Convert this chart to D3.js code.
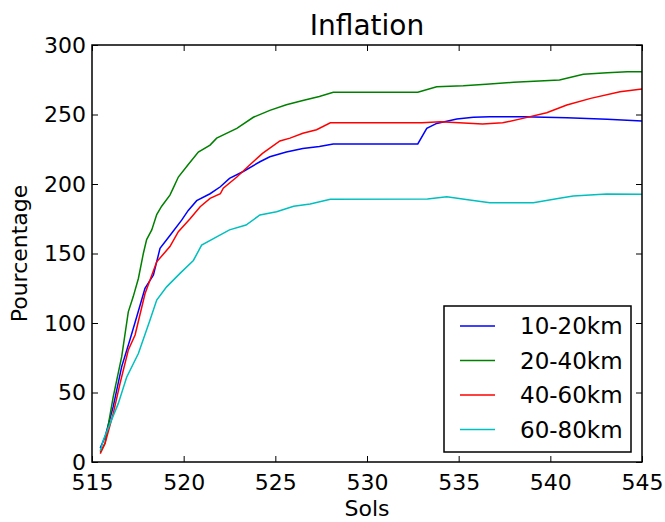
<!DOCTYPE html>
<html>
<head>
<meta charset="utf-8">
<script src="https://cdn.jsdelivr.net/npm/d3@7"></script>
<style>
  body { margin: 0; background: #fff; }
  text { font-family: "DejaVu Sans", sans-serif; }
</style>
</head>
<body>
<svg class="chart"></svg>
<script>
// data: [sol, percentage]
var s10_20 = [[515.45,10],[515.71,18],[516.16,40],[516.62,68.6],[517.07,88],[517.44,104.5],[517.89,125],[518.35,134.5],[518.71,153.7],[519.25,163],[519.89,174],[520.25,181],[520.71,188],[521.44,193],[522,198],[522.5,204],[523.25,209],[524.16,216],[524.7,219.6],[525.6,223],[526.5,225.6],[527.4,227],[528.16,228.8],[532.77,228.8],[533.26,240],[533.8,243.6],[534.9,246.8],[535.8,248],[536.7,248.4],[538.5,248.4],[540.9,247.7],[543.1,246.5],[545,245.3]];
var s20_40 = [[515.45,7],[515.71,13.4],[516.16,47],[516.62,75.8],[516.98,108],[517.25,119],[517.53,132],[517.8,150],[517.98,160],[518.26,167],[518.53,178],[518.8,184],[519.25,192],[519.43,197],[519.71,205],[520.25,214],[520.8,223],[521.44,228],[521.8,233],[522.9,240],[523.8,248],[524.7,253],[525.6,257],[526.5,260],[527.4,263],[528.16,266],[532.77,266],[533.8,270],[535.25,270.7],[536.5,271.7],[538,273.2],[540.5,274.8],[541.8,278.9],[543.1,280],[544.2,280.8],[545,280.8]];
var s40_60 = [[515.45,6],[515.71,13.4],[516.16,35],[516.53,56.6],[516.98,80.6],[517.35,91.4],[517.89,121],[518.53,144],[519.25,155],[519.71,165.7],[520.35,175],[520.9,183.7],[521.44,189.7],[522,193],[522.16,197],[522.9,205],[523.6,213.7],[524.3,222],[525.25,231],[525.8,233],[526.5,236.5],[527.25,239],[528,244],[533,244],[534,244.8],[536.3,243.2],[537.4,244],[538.5,247.2],[539.8,251.3],[540.9,256.8],[542.2,261.6],[543.8,266.4],[545,268.3]];
var s60_80 = [[515.45,8],[515.62,15.8],[516.43,42],[516.89,61],[517.53,78],[518.16,102],[518.53,116.5],[519.07,126],[519.8,135.7],[520.53,145],[520.98,156],[521.8,162],[522.5,167],[523.4,170.5],[524.16,177.7],[525.07,180],[526,184],[526.9,185.6],[528,189],[533.3,189.2],[534.35,190.9],[535.6,188.5],[536.7,186.5],[539.07,186.5],[540.5,189.7],[541.25,191.4],[543.07,192.8],[545,192.6]];

var seriesNames = ["10-20km", "20-40km", "40-60km", "60-80km"];
var seriesColors = ["#0000ff", "#008000", "#ff0000", "#00bfbf"];
var seriesData = [s10_20, s20_40, s40_60, s60_80];

var xTicks = [515, 520, 525, 530, 535, 540, 545];
var yTicks = [0, 50, 100, 150, 200, 250, 300];

// canvas dimensions
var margin = {top: 45, right: 23, bottom: 60, left: 92},
    width = 665 - margin.left - margin.right,
    height = 522 - margin.top - margin.bottom;

var x = d3.scaleLinear().domain([515, 545]).range([0, width]);
var y = d3.scaleLinear().domain([0, 300]).range([height, 0]);

var svg = d3.select(".chart")
    .attr("width", 665)
    .attr("height", 522);

var chart = svg.append("g")
    .attr("transform", "translate(" + margin.left + "," + margin.top + ")");

// lines
var line = d3.line()
    .x(function(d) { return x(d[0]); })
    .y(function(d) { return y(d[1]); });

seriesData.forEach(function(s, i) {
  chart.append("path")
      .datum(s)
      .attr("fill", "none")
      .attr("stroke", seriesColors[i])
      .attr("stroke-width", 1.5)
      .attr("d", line);
});

// axes, ticks pointing inward like matplotlib classic
function styleAxis(g) {
  g.select(".domain").remove();
  g.selectAll("line").attr("stroke", "#000").attr("stroke-width", 1);
  g.selectAll("text").attr("fill", "#000").style("font-size", "22px")
      .style("font-family", "DejaVu Sans");
}

chart.append("g")
    .attr("transform", "translate(0," + height + ")")
    .call(d3.axisBottom(x).tickValues(xTicks).tickFormat(d3.format("d"))
      .tickSizeInner(-6).tickPadding(12))
    .call(styleAxis);

chart.append("g")
    .call(d3.axisTop(x).tickValues(xTicks).tickSizeInner(-6).tickFormat(""))
    .call(styleAxis);

chart.append("g")
    .call(d3.axisLeft(y).tickValues(yTicks).tickFormat(d3.format("d"))
      .tickSizeInner(-6).tickPadding(6))
    .call(styleAxis);

chart.append("g")
    .attr("transform", "translate(" + width + ",0)")
    .call(d3.axisRight(y).tickValues(yTicks).tickSizeInner(-6).tickFormat(""))
    .call(styleAxis);

// frame
chart.append("rect")
    .attr("width", width)
    .attr("height", height)
    .attr("fill", "none")
    .attr("stroke", "#000")
    .attr("stroke-width", 1.5);

// title and labels
svg.append("text")
    .attr("x", margin.left + width / 2)
    .attr("y", 35)
    .attr("text-anchor", "middle")
    .style("font-size", "28px")
    .text("Inflation");

svg.append("text")
    .attr("x", margin.left + width / 2)
    .attr("y", 516)
    .attr("text-anchor", "middle")
    .style("font-size", "22px")
    .text("Sols");

svg.append("text")
    .attr("transform", "translate(27," + (margin.top + height / 2) + ") rotate(-90)")
    .attr("text-anchor", "middle")
    .style("font-size", "22px")
    .text("Pourcentage");

// legend
var legend = svg.append("g").attr("transform", "translate(444,306)");
legend.append("rect")
    .attr("width", 187)
    .attr("height", 146)
    .attr("fill", "#fff")
    .attr("stroke", "#000")
    .attr("stroke-width", 1.5);

seriesNames.forEach(function(name, i) {
  var cy = 20 + i * 34.5;
  legend.append("line")
      .attr("x1", 16).attr("x2", 51)
      .attr("y1", cy).attr("y2", cy)
      .attr("stroke", seriesColors[i])
      .attr("stroke-width", 1.5);
  legend.append("text")
      .attr("x", 76)
      .attr("y", cy)
      .attr("dy", "0.36em")
      .style("font-size", "23px")
      .text(name);
});
</script>
</body>
</html>
